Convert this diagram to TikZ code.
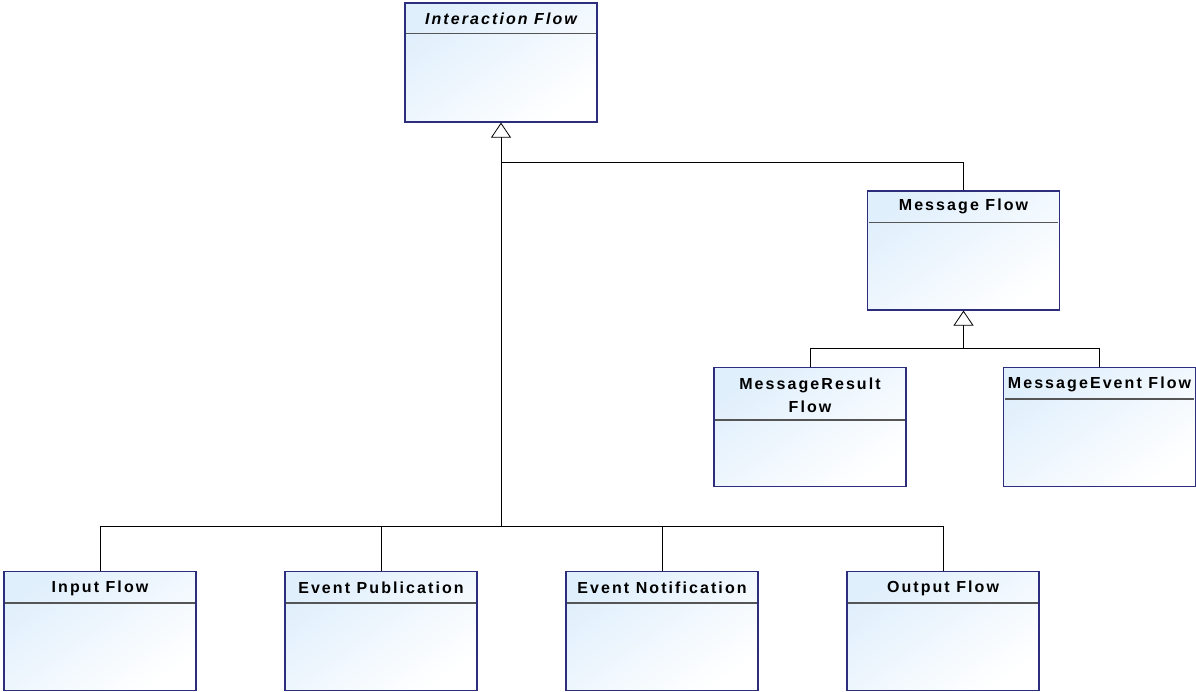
\documentclass[tikz,border=0pt]{standalone}
\usepackage{fontspec}
\setmainfont{Liberation Sans}
\newfontfamily\hdfont[LetterSpace=13]{Liberation Sans}
\usetikzlibrary{arrows.meta}
\definecolor{boxborder}{RGB}{45,45,125}
\definecolor{boxtop}{RGB}{224,239,252}
\definecolor{sepline}{RGB}{85,85,85}
\tikzset{
  classbox/.style={draw=boxborder, line width=1.2pt, minimum width=192pt, minimum height=119pt,
    inner sep=0pt, top color=boxtop, bottom color=white, shading angle=35},
  hdtext/.style={font=\hdfont\bfseries\fontsize{16}{23}\selectfont, align=center, inner sep=0pt, text=black},
  sep/.style={draw=sepline, line width=1.2pt},
  conn/.style={draw=black, line width=0.8pt},
  gen/.style={conn, -{Triangle[open, length=15pt, width=20pt, line width=0.8pt]}}
}
\begin{document}
\begin{tikzpicture}[x=1pt, y=-1pt]
\useasboundingbox (0,0) rectangle (1196,691);
% boxes
\node[classbox] (if) at (501,62.5) {};
\node[classbox] (mf) at (963.5,250.5) {};
\node[classbox] (mr) at (810,427) {};
\node[classbox] (me) at (1099.5,427) {};
\node[classbox] (ip) at (100,631) {};
\node[classbox] (ep) at (381,631) {};
\node[classbox] (en) at (662,631) {};
\node[classbox] (of) at (943,631) {};
% headers
\node[hdtext, font=\hdfont\bfseries\itshape\fontsize{16}{23}\selectfont] (ift) at ([yshift=-16pt]if.north) {Interaction Flow};
\draw[sep] ([xshift=2pt,yshift=-31pt]if.north west) -- ([xshift=-2pt,yshift=-31pt]if.north east);
\node[hdtext] (mft) at ([yshift=-16pt]mf.north) {Message Flow};
\draw[sep] ([xshift=2pt,yshift=-32pt]mf.north west) -- ([xshift=-2pt,yshift=-32pt]mf.north east);
\node[hdtext] (mrt) at ([yshift=-28.5pt]mr.north) {MessageResult\\Flow};
\draw[sep] ([xshift=2pt,yshift=-53pt]mr.north west) -- ([xshift=-2pt,yshift=-53pt]mr.north east);
\node[hdtext] (met) at ([yshift=-17pt]me.north) {MessageEvent Flow};
\draw[sep] ([xshift=2pt,yshift=-32pt]me.north west) -- ([xshift=-2pt,yshift=-32pt]me.north east);
\node[hdtext] (ipt) at ([yshift=-17pt]ip.north) {Input Flow};
\draw[sep] ([xshift=2pt,yshift=-32pt]ip.north west) -- ([xshift=-2pt,yshift=-32pt]ip.north east);
\node[hdtext] (ept) at ([yshift=-17pt]ep.north) {Event Publication};
\draw[sep] ([xshift=2pt,yshift=-32pt]ep.north west) -- ([xshift=-2pt,yshift=-32pt]ep.north east);
\node[hdtext] (ent) at ([yshift=-17pt]en.north) {Event Notification};
\draw[sep] ([xshift=2pt,yshift=-32pt]en.north west) -- ([xshift=-2pt,yshift=-32pt]en.north east);
\node[hdtext] (oft) at ([yshift=-17pt]of.north) {Output Flow};
\draw[sep] ([xshift=2pt,yshift=-32pt]of.north west) -- ([xshift=-2pt,yshift=-32pt]of.north east);
% connectors
\coordinate (b0) at (501,526);
\coordinate (j1) at (501,162);
\coordinate (m0) at (963.5,348);
\draw[gen] (b0) -- (if.south);
\draw[conn] (j1) -- (mf.north |- j1) -- (mf.north);
\draw[conn] (ip.north) -- (ip.north |- b0) -- (of.north |- b0) -- (of.north);
\draw[conn] (ep.north) -- (ep.north |- b0);
\draw[conn] (en.north) -- (en.north |- b0);
\draw[gen] (m0) -- (mf.south);
\draw[conn] (mr.north) -- (mr.north |- m0) -- (me.north |- m0) -- (me.north);
\end{tikzpicture}
\end{document}
